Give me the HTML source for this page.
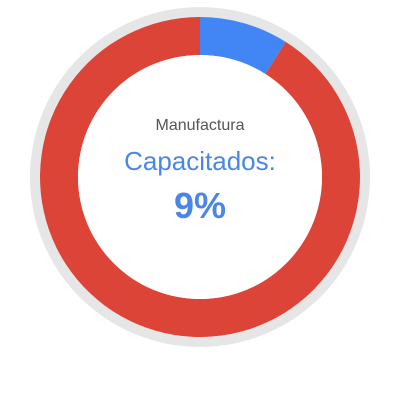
<!DOCTYPE html>
<html><head><meta charset="utf-8"><style>
html,body{margin:0;padding:0;background:#fff;width:400px;height:400px;overflow:hidden}
</style></head><body>
<svg width="400" height="400">
<circle cx="200" cy="177" r="170" fill="#e6e6e6"/>
<circle cx="200" cy="177" r="160" fill="#fff"/>
<g id="slices"></g>
<circle cx="200" cy="177" r="122" fill="#fff"/>
<text x="200" y="130" text-anchor="middle" font-family="Liberation Sans, sans-serif" font-size="16" fill="#555">Manufactura</text>
<text x="200" y="170" text-anchor="middle" font-family="Liberation Sans, sans-serif" font-size="26" fill="#4a86e8">Capacitados:</text>
<text id="pct" x="200" y="218" text-anchor="middle" font-family="Liberation Sans, sans-serif" font-size="36" font-weight="bold" fill="#4a86e8">9%</text>
</svg>
<script>
const categories=['Capacitados','No capacitados'];
const values=[9,91];
const colors=['#4285f4','#db4437'];
const cx=200,cy=177,R=160,r=122;
const g=document.getElementById('slices');
const total=values.reduce((a,b)=>a+b,0);
let a0=0;
function pt(rad,a){return [cx+rad*Math.sin(a),cy-rad*Math.cos(a)];}
values.forEach((v,i)=>{
  const a1=a0+v/total*2*Math.PI;
  const large=(a1-a0)>Math.PI?1:0;
  const p1=pt(R,a0),p2=pt(R,a1),p3=pt(r,a1),p4=pt(r,a0);
  const p=document.createElementNS('http://www.w3.org/2000/svg','path');
  p.setAttribute('d',`M${p1}A${R},${R} 0 ${large} 1 ${p2}L${p3}A${r},${r} 0 ${large} 0 ${p4}Z`);
  p.setAttribute('fill',colors[i]);
  
  
  g.appendChild(p);
  a0=a1;
});
document.getElementById('pct').textContent=Math.round(values[0]/total*100)+'%';
</script>
</body></html>
